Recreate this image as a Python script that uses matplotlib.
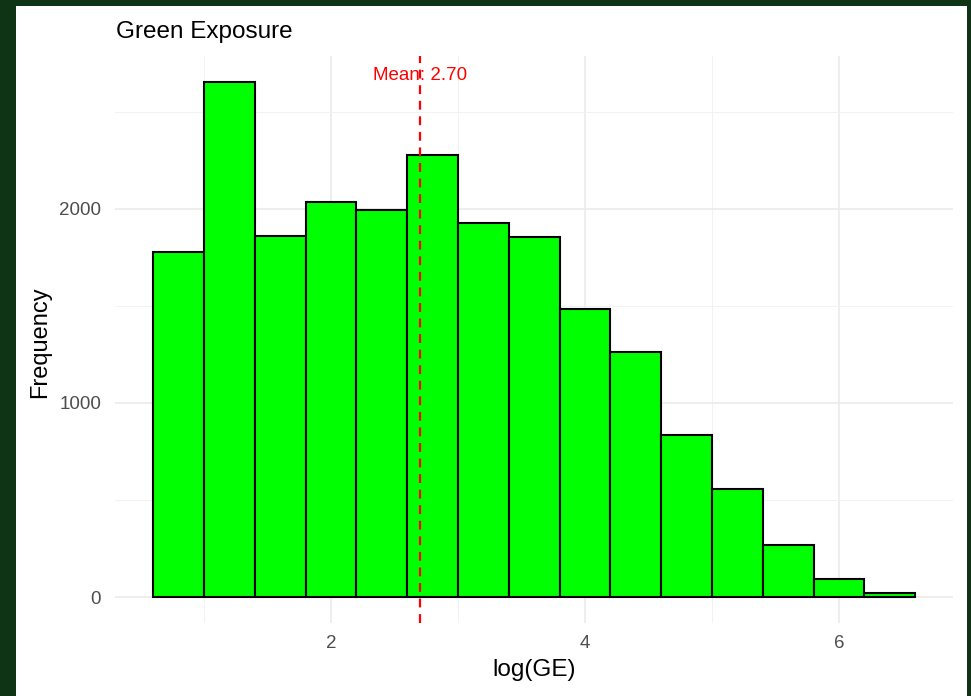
import numpy as np
import matplotlib
matplotlib.use("Agg")
import matplotlib.pyplot as plt
from matplotlib.patches import Rectangle

plt.rcParams["font.family"] = ["Liberation Sans", "DejaVu Sans"]

# histogram of log(GE), bin width 0.4
bin_edges = np.round(np.arange(0.6, 6.61, 0.4), 2)
counts = [1778, 2655, 1861, 2036, 1995, 2278, 1928, 1856, 1485, 1263, 835, 557, 268, 93, 20]
mean_val = 2.70

x_ticks = [2, 4, 6]
y_ticks = [0, 1000, 2000]

fig = plt.figure(figsize=(9.71, 6.96), dpi=100, facecolor="#0f3315")
fig.patches.append(Rectangle((16 / 971, 0), (967 - 16) / 971, 1 - 6 / 696,
                             transform=fig.transFigure, facecolor="white",
                             edgecolor="none", zorder=-10))

ax = fig.add_axes([0.1185, 0.1052, 0.8632, 0.8142])
ax.set_facecolor("white")

ax.bar(bin_edges[:-1], counts, width=0.4, align="edge", color="#00ff00",
       edgecolor="black", linewidth=1.5, zorder=3)

ax.axvline(mean_val, color="red", linestyle=(0, (4, 3)), linewidth=1.6, zorder=4)
ax.text(mean_val, 2690, f"Mean: {mean_val:.2f}", color="red", fontsize=13.5,
        ha="center", va="center", zorder=5)

ymax = max(counts)
ax.set_xlim(0.3, 6.9)
ax.set_ylim(-0.05 * ymax, 1.05 * ymax)

ax.set_xticks(x_ticks)
ax.set_yticks(y_ticks)
ax.set_xticks([1, 3, 5], minor=True)
ax.set_yticks([500, 1500, 2500], minor=True)
ax.grid(which="major", color="#ebebeb", linewidth=1.2, zorder=0)
ax.grid(which="minor", color="#f2f2f2", linewidth=0.7, zorder=0)
ax.set_axisbelow(True)
ax.tick_params(which="both", length=0, labelsize=13.5, labelcolor="#4d4d4d")
ax.tick_params(axis="x", pad=9)
ax.tick_params(axis="y", pad=10)
for s in ax.spines.values():
    s.set_visible(False)

fig.text(116 / 971, 1 - 32 / 696, "Green Exposure", fontsize=17.5,
         ha="left", va="center")
fig.text(534 / 971, 1 - 670 / 696, "log(GE)", fontsize=17.5,
         ha="center", va="center")
fig.text(40 / 971, 1 - 342 / 696, "Frequency", fontsize=17,
         ha="center", va="center", rotation=90)

fig.savefig("out.png", dpi=100, facecolor=fig.get_facecolor())
